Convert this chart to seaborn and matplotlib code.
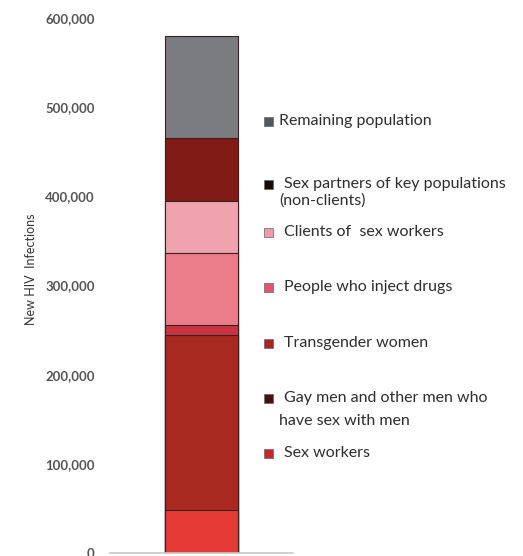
import numpy as np
import pandas as pd
import matplotlib
matplotlib.use("Agg")
import matplotlib.pyplot as plt
import seaborn as sns
from matplotlib.patches import Rectangle

# ---- data (bottom to top of the stack) ----
groups = ["Sex workers",
          "Gay men and other men who\nhave sex with men",
          "Transgender women",
          "People who inject drugs",
          "Clients of  sex workers",
          "Sex partners of key populations\n(non-clients)",
          "Remaining population"]
infections = [48000, 197000, 11000, 81000, 58000, 70000, 115000]
bar_colors = ["#e53a36", "#a8291f", "#c7333f", "#ea7d88", "#eea3ad", "#801b16", "#7b7c80"]
legend_colors = ["#c22a2c", "#4a0f12", "#a82526", "#e0566c", "#ee9aab", "#1c0a0b", "#55585b"]
yticks = [0, 100000, 200000, 300000, 400000, 500000, 600000]

# layout of the hand-placed legend (pixel rows, top-down in figure)
legend_rows_px = [453, 398, 343, 287, 232, 184, 121]

sns.set_theme(style="white")
plt.rcParams["font.family"] = ["Lato", "DejaVu Sans"]

W, H = 523, 556
fig = plt.figure(figsize=(W / 100, H / 100), dpi=100)
ax = fig.add_axes([110 / W, 3 / H, 183 / W, 535 / H])

cum = np.cumsum(infections)
for i in range(len(groups) - 1, -1, -1):
    df = pd.DataFrame({"cat": [""], "val": [cum[i]]})
    sns.barplot(data=df, x="cat", y="val", color=bar_colors[i], saturation=1,
                width=0.4, edgecolor="#3a2020", linewidth=0.8, ax=ax)

ax.set_ylim(0, 600000)
ax.set_xlim(-0.5, 0.5)
ax.set_yticks(yticks)
ax.set_yticklabels([f"{v:,}" for v in yticks], fontsize=9.5, color="#555555",
                   fontweight="bold")
ax.tick_params(axis="y", length=0, pad=11)
ax.set_xticks([])
ax.set_xlabel("")
ax.set_ylabel("New HIV  Infections", fontsize=9, color="#333333")
ax.yaxis.set_label_coords(-0.40, 0.53)
for s in ["top", "right", "left"]:
    ax.spines[s].set_visible(False)
ax.spines["bottom"].set_color("#c8c8c8")
ax.spines["bottom"].set_linewidth(1.2)

# hand-placed legend
for i, lab in enumerate(groups):
    ypx = legend_rows_px[i]
    yf = 1 - ypx / H
    fig.patches.append(Rectangle((264 / W, yf - 5 / H), 9 / W, 9 / H,
                                 transform=fig.transFigure,
                                 facecolor=legend_colors[i], edgecolor="#666666",
                                 linewidth=0.5))
    lines = lab.split("\n")
    x0 = 279 if i == len(groups) - 1 else 284
    fig.text(x0 / W, yf, lines[0], fontsize=11.5, color="#2e2e2e",
             va="center", ha="left")
    if len(lines) > 1:
        gap = 23 if i == 1 else 17
        fig.text(279 / W, 1 - (ypx + gap) / H, lines[1], fontsize=11.5,
                 color="#2e2e2e", va="center", ha="left")

fig.savefig("out.png", dpi=100)
